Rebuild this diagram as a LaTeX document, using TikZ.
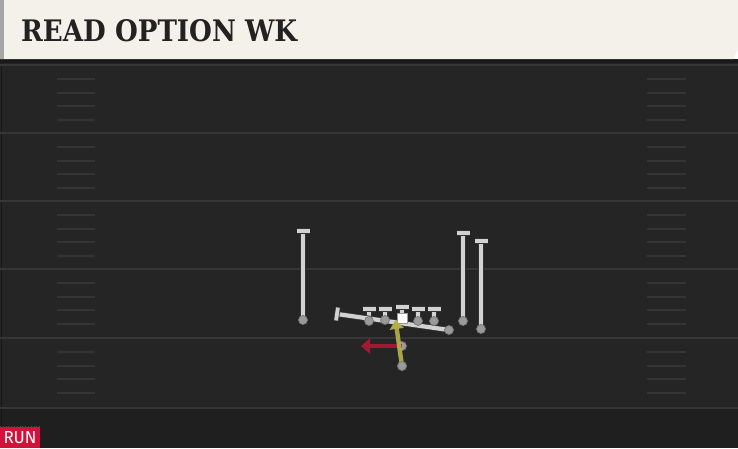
\documentclass[tikz,border=0pt]{standalone}
\usepackage{fontspec}
\usetikzlibrary{arrows.meta,calc}
\newfontfamily\titlefont{DejaVu Serif}
\newfontfamily\runfont{Fira Sans}
\definecolor{cream}{HTML}{F4F1EA}
\definecolor{fieldc}{HTML}{252525}
\definecolor{fieldlow}{HTML}{1F1F1F}
\definecolor{linec}{HTML}{363636}
\definecolor{hashc}{HTML}{343434}
\definecolor{routegrey}{HTML}{D2D2D2}
\definecolor{dotgrey}{HTML}{9A9A9A}
\definecolor{runred}{HTML}{D3123C}
\definecolor{arrred}{HTML}{A01A33}
\definecolor{arryel}{HTML}{B3B04C}
\definecolor{titleink}{HTML}{222222}
\tikzset{
  yardline/.style={draw=linec, line width=2pt},
  hashline/.style={draw=hashc, line width=2pt},
  route/.style={draw=routegrey, line width=4.2pt, preaction={draw=black!80, line width=5.8pt}},
  tbar/.style={draw=routegrey, line width=3.8pt, preaction={draw=black!80, line width=5.4pt}},
  pdot/.style={circle, fill=dotgrey, draw=black!55, line width=0.7pt, minimum size=9pt, inner sep=0pt},
  redarrow/.style={draw=arrred, line width=4.4pt, -{Triangle[length=9pt,width=15pt]}},
  yelarrow/.style={draw=arryel, line width=4.4pt, -{Triangle[length=9pt,width=14pt]}},
}
\begin{document}
\begin{tikzpicture}[x=1pt,y=-1pt]
\useasboundingbox (0,0) rectangle (738,448);
% field
\fill[fieldc] (0,59) rectangle (738,448);
\fill[fieldlow] (0,409) rectangle (738,448);
\draw[draw=black!40!fieldc, line width=1pt] (1,59) -- (1,427);
% yard lines
\foreach \y in {65,133,201,269,338,408} {
  \draw[yardline] (0,\y) -- (738,\y);
}
% hash marks
\foreach \y in {65,133,201,269,338} {
  \foreach \d in {14,27.5,41,54.5} {
    \draw[hashline] (57,\y+\d) -- (95,\y+\d);
    \draw[hashline] (647,\y+\d) -- (686,\y+\d);
  }
}
% header
\fill[black!90] (0,59) rectangle (738,62.5);
\fill[cream] (0,0) -- (738,0) -- (738,50) -- (733,59) -- (0,59) -- cycle;
\fill[black!35] (0,0) rectangle (3.5,59);
\node[anchor=south west, inner sep=0pt, text=titleink] (title) at (21,42)
  {\resizebox{276pt}{22pt}{\titlefont\bfseries READ OPTION WK}};
% RUN badge
\fill[runred] (0,427) rectangle (40,448);
\draw[black!70, dotted, line width=0.8pt] (0,426.5) -- (40,426.5);
\node[inner sep=0pt, text=white] (run) at (20,438)
  {\resizebox{33pt}{12pt}{\runfont RUN}};
% player positions
\coordinate (lwr) at (303,320);  \coordinate (lwrT) at (303,231);
\coordinate (rwa) at (463,321);  \coordinate (rwaT) at (463,233);
\coordinate (rwb) at (481,329);  \coordinate (rwbT) at (481,241);
\coordinate (lt) at (369,321);   \coordinate (ltT) at (369,309);
\coordinate (lg) at (385,320);   \coordinate (lgT) at (385,309);
\coordinate (ce) at (402,318);   \coordinate (ceT) at (402,307);
\coordinate (rg) at (418,321);   \coordinate (rgT) at (418,309);
\coordinate (rt) at (434,321);   \coordinate (rtT) at (434,309);
\coordinate (te) at (449,330);   \coordinate (teT) at (337,314);
\coordinate (qb) at (402,346);   \coordinate (qbT) at (361,346);
\coordinate (rb) at (402,366);   \coordinate (rbT) at (395.5,320);
% receivers
\foreach \p in {lwr,rwa,rwb} {
  \draw[route] (\p) -- (\p T);
  \draw[tbar] ($(\p T)+(-6.5,0)$) -- ($(\p T)+(6.5,0)$);
}
% line
\foreach \p in {lt,lg,ce,rg,rt} {
  \draw[route] (\p) -- (\p T);
  \draw[tbar] ($(\p T)+(-6.5,0)$) -- ($(\p T)+(6.5,0)$);
}
% diagonal route
\draw[route] (te) -- (teT);
\draw[tbar] ($(teT)!6.5pt!90:(te)$) -- ($(teT)!6.5pt!-90:(te)$);
% dots
\foreach \p in {lwr,rwa,rwb,lt,lg,rg,rt,te} {
  \node[pdot] (\p dot) at (\p) {};
}
\node[fill=white, draw=black!40, line width=0.5pt, minimum size=9.5pt, inner sep=0pt] (cesq) at (ce) {};
% backfield
\node[pdot] (qbdot) at (qb) {};
\node[pdot] (rbdot) at (rb) {};
\draw[redarrow] (qbdot.center) -- (qbT);
\draw[yelarrow, draw opacity=0.92] (rbdot.center) -- (rbT);
\node[pdot] at (rb) {};
\end{tikzpicture}
\end{document}
